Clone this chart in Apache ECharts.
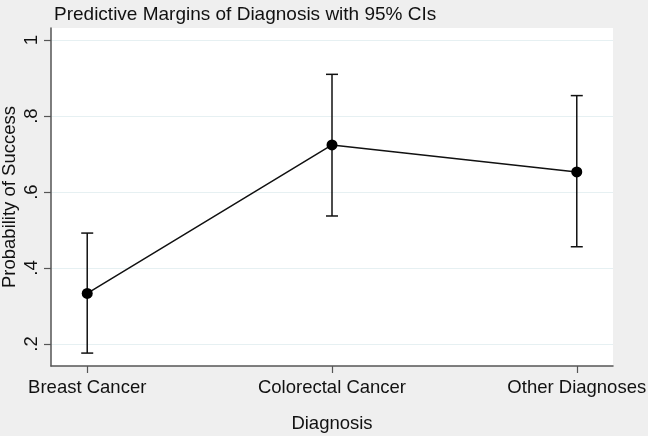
<!DOCTYPE html>
<html>
<head>
<meta charset="utf-8">
<script src="https://cdn.jsdelivr.net/npm/echarts@6/dist/echarts.min.js"></script>
<style>
html,body{margin:0;padding:0;background:#efefef;}
#c{width:648px;height:436px;}
</style>
</head>
<body>
<div id="c"></div>
<script>
var categories = ['Breast Cancer', 'Colorectal Cancer', 'Other Diagnoses'];
var catPositions = [1, 2, 3];
var margins = [0.333, 0.724, 0.653];
var lowerCI = [0.176, 0.537, 0.456];
var upperCI = [0.492, 0.910, 0.854];
var yTicks = [0.2, 0.4, 0.6, 0.8, 1];
var yTickLabels = ['.2', '.4', '.6', '.8', '1'];

var font = '"Liberation Sans", Arial, sans-serif';
var chart = echarts.init(document.getElementById('c'));

var pointData = catPositions.map(function (x, i) { return [x, margins[i]]; });
var ciData = catPositions.map(function (x, i) { return [x, lowerCI[i], upperCI[i]]; });

chart.setOption({
  backgroundColor: '#efefef',
  animation: false,
  title: {
    text: 'Predictive Margins of Diagnosis with 95% CIs',
    left: 49, top: 0,
    textStyle: { fontFamily: font, fontSize: 19, fontWeight: 'normal', color: '#111' }
  },
  grid: { left: 51, right: 35, top: 28, bottom: 70, backgroundColor: '#ffffff', show: true, borderWidth: 0, outerBoundsMode: 'none', containLabel: false },
  xAxis: {
    type: 'value', min: 0.852, max: 3.148,
    name: 'Diagnosis', nameLocation: 'middle', nameGap: 48, nameMoveOverlap: false,
    nameTextStyle: { fontFamily: font, fontSize: 18.5, color: '#111' },
    axisLine: { show: true, lineStyle: { color: '#555', width: 1.5 } },
    axisTick: { show: true, length: 7, customValues: catPositions, lineStyle: { color: '#555', width: 1.2 } },
    axisLabel: {
      customValues: catPositions, margin: 12,
      fontFamily: font, fontSize: 18.5, color: '#111',
      formatter: function (v) { return categories[catPositions.indexOf(Math.round(v))] || ''; }
    },
    splitLine: { show: false }
  },
  yAxis: {
    type: 'value', min: 0.142, max: 1.032,
    name: 'Probability of Success', nameLocation: 'middle', nameGap: 31.5, nameMoveOverlap: false,
    nameTextStyle: { fontFamily: font, fontSize: 18.5, color: '#111' },
    axisLine: { show: true, lineStyle: { color: '#555', width: 1.5 } },
    axisTick: { show: true, length: 7, customValues: yTicks, lineStyle: { color: '#555', width: 1.2 } },
    axisLabel: {
      customValues: yTicks, rotate: 90, margin: 10,
      fontFamily: font, fontSize: 18.5, color: '#111',
      formatter: function (v) {
        for (var i = 0; i < yTicks.length; i++) { if (Math.abs(yTicks[i] - v) < 1e-6) return yTickLabels[i]; }
        return '';
      }
    },
    splitLine: { show: true, lineStyle: { color: '#e6f0f2', width: 1.2 } }
  },
  series: [
    {
      type: 'custom',
      data: ciData,
      z: 3,
      renderItem: function (params, api) {
        var x = api.value(0);
        var lo = api.coord([x, api.value(1)]);
        var hi = api.coord([x, api.value(2)]);
        var hw = 6;
        var st = { stroke: '#111', lineWidth: 1.5 };
        return {
          type: 'group',
          children: [
            { type: 'line', shape: { x1: lo[0], y1: lo[1], x2: hi[0], y2: hi[1] }, style: st },
            { type: 'line', shape: { x1: lo[0] - hw, y1: lo[1], x2: lo[0] + hw, y2: lo[1] }, style: st },
            { type: 'line', shape: { x1: hi[0] - hw, y1: hi[1], x2: hi[0] + hw, y2: hi[1] }, style: st }
          ]
        };
      }
    },
    {
      type: 'line',
      data: pointData,
      z: 4,
      symbol: 'circle',
      symbolSize: 11,
      lineStyle: { color: '#111', width: 1.5 },
      itemStyle: { color: '#000' }
    }
  ]
});
</script>
</body>
</html>
